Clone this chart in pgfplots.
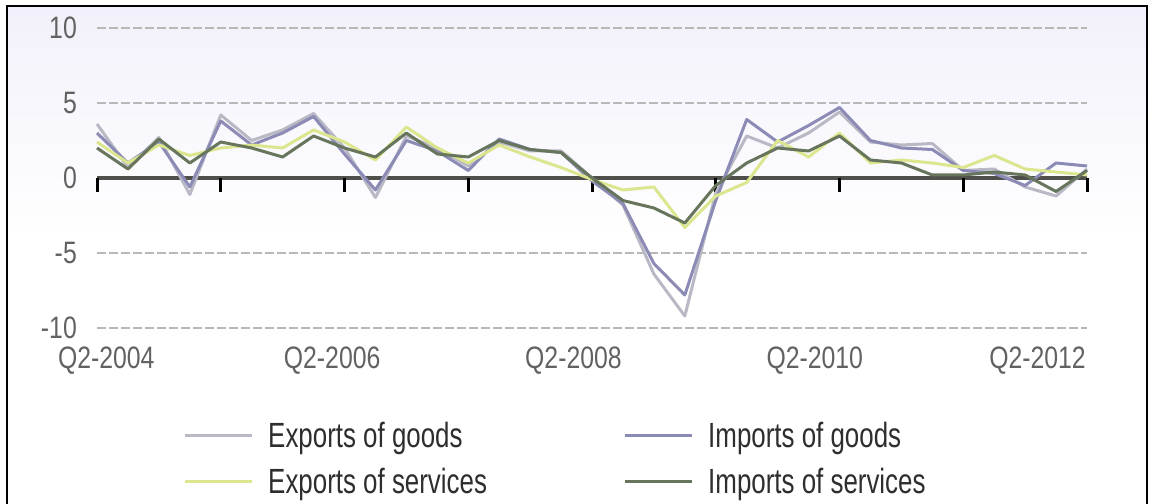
\documentclass[border=0pt]{standalone}
\usepackage{pgfplots}
\pgfplotsset{compat=1.18}
\usepackage{fontspec}
\setmainfont{Liberation Sans}[FakeStretch=0.8]
\newfontfamily\legfont{Liberation Sans}[FakeStretch=0.74]
\definecolor{expg}{HTML}{B9B9C6}
\definecolor{impg}{HTML}{8B8BB5}
\definecolor{exps}{HTML}{DCE68E}
\definecolor{imps}{HTML}{66755C}
\definecolor{lav}{HTML}{F2F1FB}
\definecolor{gridc}{HTML}{B8B8B8}
\definecolor{zeroc}{HTML}{4F4F4C}
\definecolor{tickc}{HTML}{626262}

\pgfplotstableread{
i EG IG ES IS
0 3.6 3.0 2.4 2.0
1 0.7 1.0 1.0 0.6
2 2.7 2.4 2.2 2.6
3 -1.1 -0.6 1.5 1.0
4 4.2 3.8 2.0 2.4
5 2.5 2.2 2.2 2.0
6 3.2 3.0 2.0 1.4
7 4.3 4.1 3.2 2.8
8 2.0 1.6 2.4 2.0
9 -1.3 -0.8 1.2 1.4
10 2.8 2.5 3.4 3.0
11 2.0 1.8 2.0 1.6
12 0.8 0.5 1.0 1.4
13 2.4 2.6 2.2 2.5
14 1.8 1.9 1.4 1.9
15 1.8 1.7 0.7 1.7
16 0.0 -0.2 -0.1 0.0
17 -1.8 -1.7 -0.8 -1.5
18 -6.4 -5.7 -0.6 -2.0
19 -9.2 -7.8 -3.3 -3.0
20 -1.0 -1.5 -1.2 -0.5
21 2.8 3.9 -0.3 1.0
22 2.0 2.4 2.5 2.0
23 3.0 3.5 1.4 1.8
24 4.4 4.7 3.0 2.8
25 2.4 2.5 1.0 1.2
26 2.2 2.0 1.2 1.0
27 2.3 1.9 1.0 0.2
28 0.5 0.5 0.7 0.2
29 0.6 0.3 1.5 0.4
30 -0.6 -0.5 0.6 0.2
31 -1.2 1.0 0.4 -0.9
32 0.6 0.8 0.2 0.5
}\datatable

\begin{document}
\begin{tikzpicture}
\useasboundingbox (0pt,0pt) rectangle (1150pt,503pt);
\shade[top color=lav, bottom color=white] (8pt,262pt) rectangle (1146pt,496pt);
\draw[line width=1.5pt, black] (7pt,-5pt) -- (7pt,497pt) -- (1147pt,497pt) -- (1147pt,-5pt);
\begin{axis}[
  at={(97pt,175pt)}, anchor=south west,
  scale only axis, width=990pt, height=300pt,
  xmin=0, xmax=32, ymin=-10, ymax=10,
  axis line style={draw=none},
  major tick length=0pt,
  xtick={0.3,7.6,15.4,23.2,30.4},
  xticklabels={Q2-2004,Q2-2006,Q2-2008,Q2-2010,Q2-2012},
  ytick={-10,-5,0,5,10},
  yticklabels={-10,-5,0,5,10},
  ymajorgrids,
  major grid style={color=gridc, line width=1.8pt, dash pattern=on 9pt off 3pt},
  tick label style={font=\fontsize{31}{33}\selectfont, text=tickc, inner sep=0pt},
  yticklabel style={anchor=east, xshift=-20pt},
  xticklabel style={anchor=north, yshift=-19pt},
  clip=false,
  legend columns=2,
  legend cell align=left,
  legend style={at={(axis description cs:0.0869,-0.313)}, anchor=north west,
    draw=none, fill=none, inner sep=0pt, font=\legfont\fontsize{35}{38}\selectfont,
    text=black!82, row sep=19pt, nodes={inner sep=0pt},
    /tikz/every odd column/.append style={column sep=15pt}},
  legend image code/.code={\draw[#1] (0pt,0pt) -- (67pt,0pt);},
  every axis plot/.append style={line width=3pt, line join=round},
]
\draw[line width=3.5pt, zeroc] (axis cs:0,0) -- (axis cs:32,0);
\pgfplotsinvokeforeach{0,4,...,32}{\draw[line width=3pt, black] (axis cs:#1,0) -- ++(0pt,-14pt);}
\addplot[expg] table[x=i, y=EG] {\datatable};
\addlegendentry{\makebox[355pt][l]{Exports of goods}}
\addplot[impg] table[x=i, y=IG] {\datatable};
\addlegendentry{Imports of goods}
\addplot[exps] table[x=i, y=ES] {\datatable};
\addlegendentry{\makebox[355pt][l]{Exports of services}}
\addplot[imps] table[x=i, y=IS] {\datatable};
\addlegendentry{Imports of services}
\end{axis}
\end{tikzpicture}
\end{document}
